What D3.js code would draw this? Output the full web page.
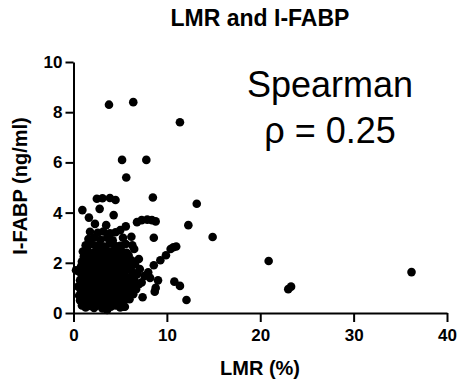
<!DOCTYPE html>
<html>
<head>
<meta charset="utf-8">
<script src="https://cdn.jsdelivr.net/npm/d3@7"></script>
<style>
  body { margin: 0; background: #fff; }
  text { font-family: "Liberation Sans", Arial, sans-serif; }
</style>
</head>
<body>
<script>
// chart text
const chartTitle = "LMR and I-FABP";
const xTitle = "LMR (%)";
const yTitle = "I-FABP (ng/ml)";
const statLines = ["Spearman", "\u03c1 = 0.25"];

// axis ticks
const xTicks = [0, 10, 20, 30, 40];
const yTicks = [0, 2, 4, 6, 8, 10];

// [LMR %, I-FABP ng/ml]
const denseCluster = [
  [0.9,0.3],[1.3,0.22],[1.8,0.28],[2.2,0.2],[2.7,0.3],[3.1,0.18],[3.6,0.12],[4.0,0.25],[4.5,0.3],[5.0,0.22],[5.4,0.25],
  [0.7,0.5],[1.1,0.45],[1.6,0.4],[2.0,0.48],[2.5,0.42],[2.9,0.5],[3.4,0.38],[3.8,0.46],[4.3,0.44],[4.8,0.5],[5.3,0.42],[6.0,0.55],
  [0.6,0.7],[1.0,0.65],[1.4,0.62],[1.9,0.7],[2.3,0.6],[2.8,0.68],[3.2,0.64],[3.7,0.72],[4.1,0.6],[4.6,0.66],[5.1,0.7],[5.7,0.62],[6.4,0.75],
  [0.8,0.88],[1.2,0.82],[1.7,0.9],[2.1,0.84],[2.6,0.8],[3.0,0.9],[3.5,0.85],[3.9,0.8],[4.4,0.92],[4.9,0.84],[5.4,0.9],[6.0,0.82],[6.7,0.95],
  [0.5,1.05],[1.0,1.1],[1.5,1.02],[1.9,1.08],[2.4,1.0],[2.8,1.12],[3.3,1.05],[3.7,1.0],[4.2,1.1],[4.7,1.04],[5.2,1.12],[5.8,1.0],[6.3,1.08],[7.0,1.15],
  [0.7,1.3],[1.2,1.22],[1.6,1.28],[2.1,1.2],[2.5,1.3],[3.0,1.25],[3.4,1.3],[3.9,1.22],[4.4,1.28],[4.8,1.2],[5.3,1.3],[5.9,1.25],[6.5,1.35],[7.3,1.22],
  [0.9,1.45],[1.3,1.5],[1.8,1.42],[2.2,1.48],[2.7,1.4],[3.1,1.5],[3.6,1.45],[4.0,1.42],[4.5,1.5],[5.0,1.44],[5.5,1.5],[6.1,1.42],[6.8,1.55],[7.6,1.48],
  [0.6,1.65],[1.1,1.7],[1.5,1.62],[2.0,1.68],[2.4,1.6],[2.9,1.7],[3.3,1.64],[3.8,1.7],[4.2,1.62],[4.7,1.68],[5.2,1.6],[5.7,1.72],[6.3,1.65],[7.1,1.75],
  [0.8,1.85],[1.2,1.9],[1.7,1.82],[2.1,1.88],[2.6,1.8],[3.0,1.9],[3.5,1.85],[3.9,1.82],[4.4,1.9],[4.9,1.84],[5.4,1.9],[6.0,1.82],[6.6,1.95],
  [0.9,2.05],[1.4,2.1],[1.8,2.02],[2.3,2.08],[2.7,2.0],[3.2,2.1],[3.6,2.04],[4.1,2.1],[4.5,2.02],[5.0,2.08],[5.6,2.0],[6.2,2.1],[7.0,2.15],
  [1.1,2.25],[1.6,2.3],[2.0,2.22],[2.5,2.28],[2.9,2.2],[3.4,2.3],[3.8,2.25],[4.3,2.22],[4.8,2.3],[5.3,2.24],[5.9,2.3],
  [1.0,2.45],[1.5,2.5],[2.2,2.42],[2.6,2.48],[3.1,2.4],[3.5,2.5],[4.0,2.45],[4.6,2.42],[5.1,2.5],[5.7,2.4],[6.5,2.55],
  [1.3,2.7],[1.9,2.75],[2.4,2.68],[2.8,2.72],[3.3,2.65],[3.9,2.78],[4.4,2.7],[5.0,2.68],[5.6,2.75],[6.3,2.7],
  [1.6,2.95],[2.2,3.0],[2.9,2.92],[3.6,3.0],[4.2,2.9],[5.3,3.0],[6.2,3.04],
  [1.77,3.24],[2.6,3.2],[3.2,3.25],[3.9,3.18],[4.5,3.22],[5.0,3.3]
];

const sparsePoints = [
  [0.27,1.7],[7.4,0.63],[8.7,0.85],[8.8,1.0],[9.05,1.3],[8.2,1.4],[8.0,1.62],[8.6,1.9],
  [9.3,2.1],[9.9,2.3],[10.4,2.55],[10.7,2.62],[11.0,2.65],[8.6,3.0],[14.9,3.03],
  [10.8,1.25],[11.4,1.08],[12.1,0.52],[5.5,0.25],
  [1.65,3.8],[6.8,3.62],[7.3,3.7],[7.9,3.72],[8.4,3.7],[8.8,3.65],[12.3,3.5],
  [4.3,3.9],[2.8,4.15],[0.95,4.1],[3.5,3.5],[2.3,3.55],[5.6,3.45],
  [2.5,4.55],[3.1,4.57],[3.9,4.58],[4.5,4.5],[8.5,4.6],[13.2,4.35],
  [5.65,5.4],[5.2,6.1],[7.8,6.1],[3.8,8.3],[6.4,8.4],[11.4,7.6]
];

const outliers = [[20.9,2.07],[23.0,0.95],[23.3,1.05],[36.2,1.63]];

const allPoints = denseCluster.concat(sparsePoints, outliers);

const width = 459, height = 384;
const svg = d3.select("body").append("svg")
  .attr("width", width)
  .attr("height", height);

const x = d3.scaleLinear().domain([0, 40]).range([73.5, 447]);
const y = d3.scaleLinear().domain([0, 10]).range([313, 62]);

// points
svg.append("g")
  .selectAll("circle")
  .data(allPoints)
  .enter()
  .append("circle")
  .attr("cx", d => x(d[0]))
  .attr("cy", d => y(d[1]))
  .attr("r", 4.3)
  .attr("fill", "#000");

// axes
const xAxis = svg.append("g")
  .attr("transform", `translate(0,${y(0)})`)
  .call(d3.axisBottom(x).tickValues(xTicks).tickSize(9).tickSizeOuter(0).tickPadding(7));

const yAxis = svg.append("g")
  .attr("transform", `translate(${x(0)},0)`)
  .call(d3.axisLeft(y).tickValues(yTicks).tickSize(8).tickSizeOuter(0).tickPadding(3));

[xAxis, yAxis].forEach(g => {
  g.select(".domain").attr("stroke", "#000").attr("stroke-width", 2);
  g.selectAll(".tick line").attr("stroke", "#000").attr("stroke-width", 2);
  g.selectAll(".tick text")
    .attr("fill", "#000")
    .style("font-family", "Liberation Sans, Arial, sans-serif")
    .style("font-size", "17px")
    .style("font-weight", "bold");
});

// titles
svg.append("text")
  .attr("x", 260)
  .attr("y", 26)
  .attr("text-anchor", "middle")
  .style("font-size", "23px")
  .style("font-weight", "bold")
  .text(chartTitle);

svg.append("text")
  .attr("x", 260)
  .attr("y", 375)
  .attr("text-anchor", "middle")
  .style("font-size", "20px")
  .style("font-weight", "bold")
  .text(xTitle);

svg.append("text")
  .attr("transform", "translate(27,186) rotate(-90)")
  .attr("text-anchor", "middle")
  .style("font-size", "20px")
  .style("font-weight", "bold")
  .text(yTitle);

// stat annotation
svg.selectAll(".stat")
  .data(statLines)
  .enter()
  .append("text")
  .attr("class", "stat")
  .attr("x", 330)
  .attr("y", (d, i) => 97 + i * 46)
  .attr("text-anchor", "middle")
  .style("font-size", "36px")
  .text(d => d);
</script>
</body>
</html>
